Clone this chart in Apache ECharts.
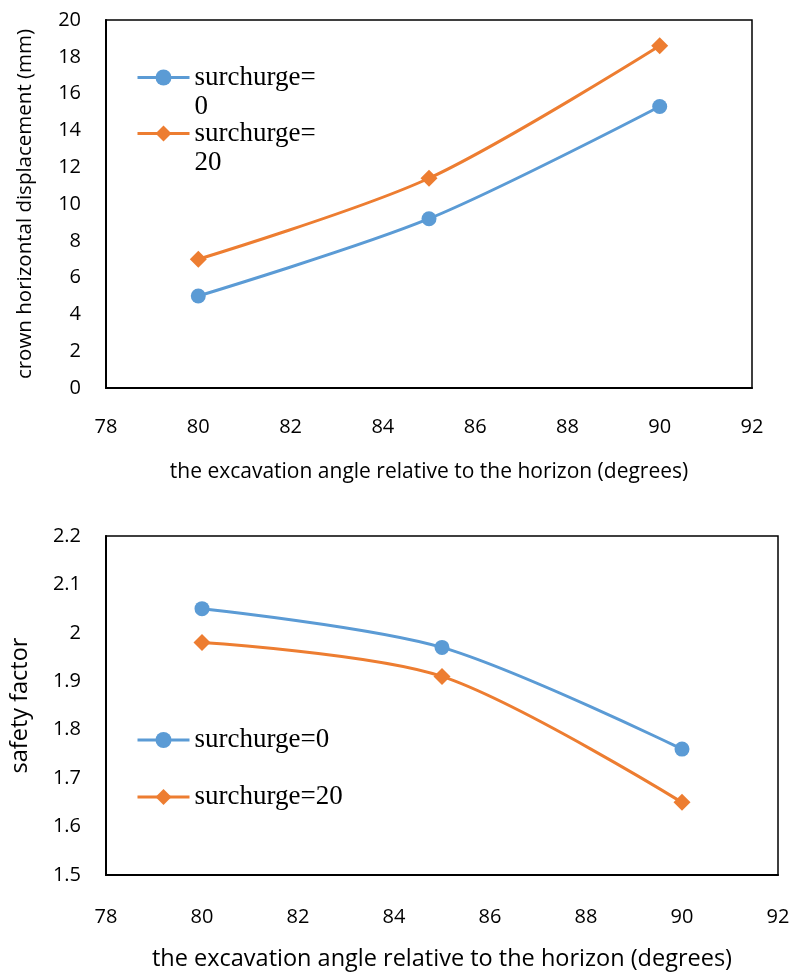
<!DOCTYPE html>
<html><head><meta charset="utf-8">
<script src="https://cdn.jsdelivr.net/npm/echarts@6/dist/echarts.min.js"></script>
<style>html,body{margin:0;padding:0;background:#fff}#c{width:794px;height:974px}</style>
</head><body><div id="c"></div>
<script>
const angles = [80, 85, 90];
const dispS0 = [5.0, 9.2, 15.3];
const dispS20 = [7.0, 11.4, 18.6];
const sfS0 = [2.05, 1.97, 1.76];
const sfS20 = [1.98, 1.91, 1.65];
const seriesNames = ['surchurge=0', 'surchurge=20'];
const xTitle = 'the excavation angle relative to the horizon (degrees)';
const yTitleTop = 'crown horizontal displacement (mm)';
const yTitleBottom = 'safety factor';

const BLUE = '#5B9BD5', ORANGE = '#ED7D31';
const sansFont = 'Open Sans';
const serifFont = 'Liberation Serif';
const pair = (xs, ys) => xs.map((x, i) => [x, ys[i]]);

const chart = echarts.init(document.getElementById('c'), null, {renderer: 'canvas'});
function xAxis(gi, size, gap, margin) {
  return {
    type: 'value', gridIndex: gi, min: 78, max: 92, interval: 2,
    name: xTitle, nameLocation: 'middle', nameGap: gap,
    nameTextStyle: {fontFamily: sansFont, fontSize: size, color: '#000'},
    axisLine: {show: true, lineStyle: {color: '#000', width: 2}},
    axisTick: {show: false}, splitLine: {show: false},
    axisLabel: {fontFamily: sansFont, fontSize: 20, color: '#000', margin: margin}
  };
}
function yAxis(gi, min, max, interval, name, size, gap) {
  return {
    type: 'value', gridIndex: gi, min: min, max: max, interval: interval,
    name: name, nameLocation: 'middle', nameGap: gap, nameRotate: 90,
    nameTextStyle: {fontFamily: sansFont, fontSize: size, color: '#000'},
    axisLine: {show: true, lineStyle: {color: '#000', width: 2}},
    axisTick: {show: false}, splitLine: {show: false},
    axisLabel: {fontFamily: sansFont, fontSize: 20, color: '#000', margin: 25,
      formatter: v => String(Math.round(v * 10) / 10)}
  };
}
function line(name, data, gi, color, sym, symSize) {
  return {
    type: 'line', name: name, xAxisIndex: gi, yAxisIndex: gi, data: data,
    smooth: 0.3, symbol: sym, symbolSize: symSize, showSymbol: true,
    lineStyle: {color: color, width: 3}, itemStyle: {color: color}
  };
}
chart.setOption({
  animation: false,
  backgroundColor: '#fff',
  grid: [
    {left: 106, top: 20, width: 646, height: 368, show: true, borderColor: '#000', borderWidth: 1.5, backgroundColor: 'transparent'},
    {left: 106, top: 536, width: 672, height: 339, show: true, borderColor: '#000', borderWidth: 1.5, backgroundColor: 'transparent'}
  ],
  legend: [
    {orient: 'vertical', left: 136, top: 34, padding: 0, itemWidth: 52, itemHeight: 20, itemGap: -31,
     data: seriesNames, lineStyle: {width: 3},
     formatter: n => ' \n' + n.replace('=', '=\n'),
     textStyle: {fontFamily: serifFont, fontSize: 27, color: '#000', lineHeight: 29}},
    {orient: 'vertical', left: 136, top: 725, padding: 0, itemWidth: 52, itemHeight: 20, itemGap: 27,
     data: seriesNames, lineStyle: {width: 3},
     textStyle: {fontFamily: serifFont, fontSize: 27, color: '#000', lineHeight: 30}}
  ],
  xAxis: [xAxis(0, 21, 73.5, 29), xAxis(1, 23.5, 72, 32)],
  yAxis: [yAxis(0, 0, 20, 2, yTitleTop, 20.5, 70), yAxis(1, 1.5, 2.2, 0.1, yTitleBottom, 23.5, 74)],
  series: [
    line(seriesNames[0], pair(angles, dispS0), 0, BLUE, 'circle', 15),
    line(seriesNames[1], pair(angles, dispS20), 0, ORANGE, 'diamond', 17),
    line(seriesNames[0], pair(angles, sfS0), 1, BLUE, 'circle', 15),
    line(seriesNames[1], pair(angles, sfS20), 1, ORANGE, 'diamond', 17)
  ]
});
</script></body></html>
